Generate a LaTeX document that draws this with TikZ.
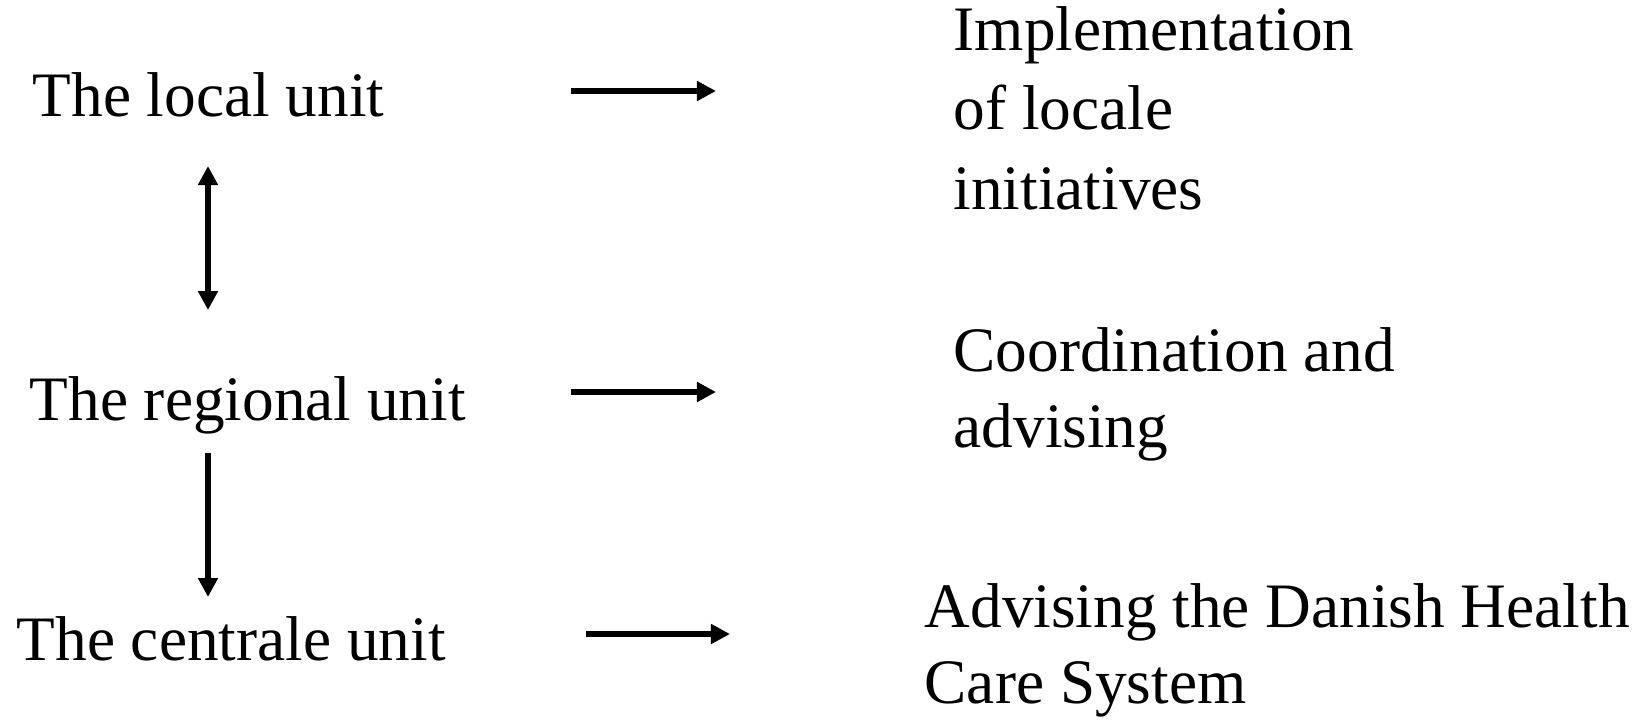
\documentclass[tikz,border=0pt]{standalone}
\usepackage{fontspec}
\setmainfont{Liberation Serif}
\usetikzlibrary{positioning,arrows.meta}
\tikzset{
  unit/.style={anchor=base west, inner sep=0pt, font=\fontsize{18}{21}\selectfont},
  task/.style={anchor=base west, inner sep=0pt, align=left, font=\fontsize{18}{21.5}\selectfont},
  flow/.style={-{Triangle[length=0.19cm,width=0.19cm]}, line width=1.8pt},
  both/.style={{Triangle[length=0.19cm,width=0.19cm]}-{Triangle[length=0.19cm,width=0.19cm]}, line width=1.8pt}
}

\begin{document}
\begin{tikzpicture}[x=0.01cm, y=-0.01cm]
        \useasboundingbox (0,0) rectangle (1650,720);
        % left column
        \node[unit] (local) at (32,116) {The local unit};
        \node[unit] (regional) at (29,420) {The regional unit};
        \node[unit] (central) at (16,660) {The centrale unit};
        % right column (base = last line)
        \node[task, font=\fontsize{18}{22.5}\selectfont] (impl) at (953,209) {Implementation\\of locale\\initiatives};
        \node[task] (coord) at (953,447) {Coordination and\\advising};
        \node[task] (advise) at (924,703) {Advising the Danish Health\\Care System};
        % arrow ends
        \coordinate (l1) at (571,91);  \coordinate (r1) at (716,91);
        \coordinate (l2) at (571,392); \coordinate (r2) at (716,392);
        \coordinate (l3) at (586,634); \coordinate (r3) at (730,634);
        \coordinate (v1) at (208,166); \coordinate (v2) at (208,310);
        \coordinate (v3) at (208,453); \coordinate (v4) at (208,597);
        \draw[flow] (l1)--(r1);
        \draw[flow] (l2)--(r2);
        \draw[flow] (l3)--(r3);
        \draw[both] (v1)--(v2);
        \draw[flow] (v3)--(v4);
    \end{tikzpicture}
\end{document}
